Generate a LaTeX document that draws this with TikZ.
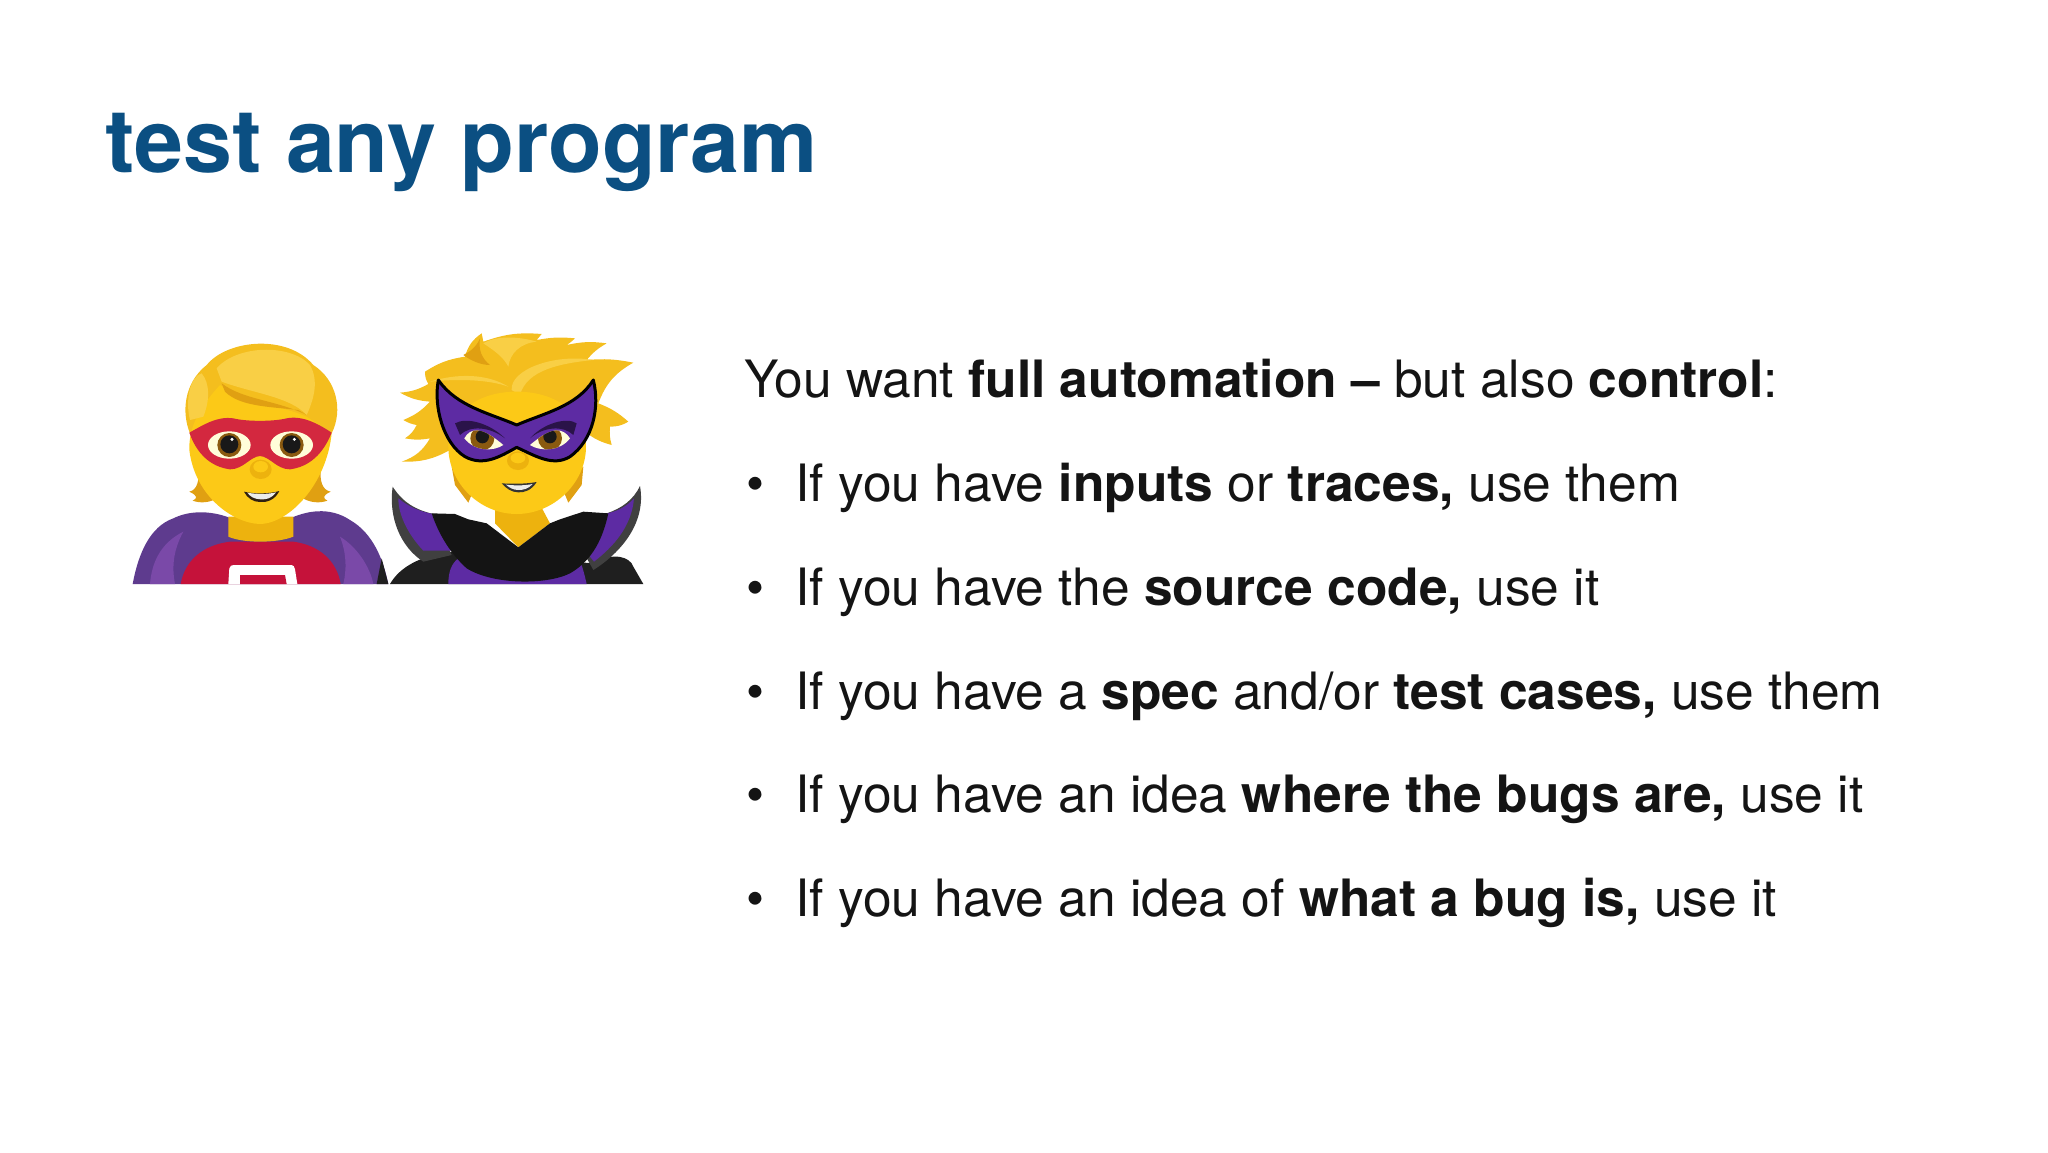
\documentclass[tikz,border=0pt]{standalone}
\usepackage{fontspec}
\setmainfont{TeX Gyre Heros}
\usetikzlibrary{calc}

\definecolor{titleblue}{HTML}{0B4F82}
\definecolor{skin}{HTML}{FCC917}
\definecolor{skindark}{HTML}{EDB20E}
\definecolor{hair}{HTML}{F4BE1E}
\definecolor{hairlight}{HTML}{F9CF45}
\definecolor{hairdark}{HTML}{E0A012}
\definecolor{cape}{HTML}{5E3B8E}
\definecolor{capelight}{HTML}{7A49A8}
\definecolor{maskred}{HTML}{D3283F}
\definecolor{shirt}{HTML}{C5123A}
\definecolor{maskpurple}{HTML}{5D2BA3}
\definecolor{iris}{HTML}{8A5A10}

\tikzset{
	titletext/.style = {anchor = base west, text = titleblue, font = \bfseries\fontsize{88}{100}\selectfont},
	bodytext/.style = {anchor = base west, text = black!92, font = \fontsize{51.5}{60}\selectfont}
}

\begin{document}
\begin{tikzpicture}[x = 1pt, y = -1pt]
	\useasboundingbox (0,0) rectangle (2048,1152);

	\node [titletext] (title) at (102,172) {test any program};

	\node [bodytext] (intro) at (741,397) {You want \textbf{full automation –} but also \textbf{control}:};

	\foreach \y/\itm in {
		501/{If you have \textbf{inputs} or \textbf{traces,} use them},
		605/{If you have the \textbf{source code,} use it},
		709/{If you have a \textbf{spec} and/or \textbf{test cases,} use them},
		812/{If you have an idea \textbf{where the bugs are,} use it},
		916/{If you have an idea of \textbf{what a bug is,} use it}}
	{
		\node [bodytext] (bullet\y) at (743,\y) {•};
		\node [bodytext] (item\y) at (792,\y) {\itm};
	}

	% first hero
	\begin{scope}[shift = {(110,310)}, scale = 1/3]
		\fill [cape] (68,822) .. controls (85,730) and (120,650) .. (190,625) .. controls (240,600) and (310,600) .. (375,630)
			-- (530,630) .. controls (590,600) and (660,590) .. (720,630) .. controls (790,670) and (820,750) .. (835,822) -- cycle;
		\fill [capelight] (120,822) .. controls (125,760) and (150,700) .. (220,665) .. controls (190,720) and (185,770) .. (195,822) -- cycle;
		\fill [capelight] (790,822) .. controls (780,770) and (740,710) .. (690,680) .. controls (710,730) and (710,780) .. (700,822) -- cycle;
		\fill [shirt] (212,822) .. controls (225,750) and (280,705) .. (360,695) -- (550,695) .. controls (625,705) and (680,750) .. (692,822) -- cycle;
		\fill [white] (355,822) -- (358,775) .. controls (360,767) and (365,765) .. (372,765) -- (540,765) .. controls (550,765) and (555,770) .. (555,778) -- (562,822) -- cycle;
		\fill [shirt] (390,822) -- (390,795) -- (525,795) -- (530,822) -- cycle;
		\fill [skindark] (355,620) -- (355,680) .. controls (400,700) and (500,700) .. (550,680) -- (550,620) -- cycle;
		% hair behind the face
		\fill [hairdark] (238,545) .. controls (262,540) and (268,510) .. (265,480) -- (330,560) .. controls (300,580) and (270,580) .. (248,572) .. controls (262,565) and (265,558) .. (238,545) -- cycle;
		\fill [hairdark] (662,545) .. controls (635,540) and (630,510) .. (632,480) -- (570,560) .. controls (600,580) and (630,580) .. (652,572) .. controls (640,565) and (635,558) .. (662,545) -- cycle;
		\fill [hair] (240,370) .. controls (215,310) and (220,220) .. (290,165) .. controls (350,90) and (530,70) .. (610,165) .. controls (680,210) and (700,300) .. (665,370) -- cycle;
		\fill [skin] (450,642) .. controls (370,640) and (255,560) .. (238,420) .. controls (236,350) and (270,290) .. (330,225) .. controls (400,270) and (520,290) .. (590,320) -- (665,370) .. controls (650,520) and (540,640) .. (450,642) -- cycle;
		\fill [hairlight] (320,175) .. controls (380,105) and (540,100) .. (600,165) .. controls (625,210) and (615,260) .. (590,315) .. controls (540,260) and (430,250) .. (335,215) -- cycle;
		\fill [hairdark] (335,220) .. controls (400,270) and (500,270) .. (590,315) -- (565,300) .. controls (480,290) and (390,290) .. (345,245) -- cycle;
		\fill [hairlight] (240,330) .. controls (225,270) and (240,200) .. (275,190) .. controls (300,220) and (300,270) .. (280,320) -- cycle;
		% mask
		\fill [maskred] (238,368) .. controls (280,345) and (320,318) .. (370,325) .. controls (410,335) and (490,335) .. (530,325) .. controls (580,315) and (630,345) .. (665,368)
			.. controls (640,430) and (600,470) .. (540,478) .. controls (500,478) and (480,440) .. (450,438) .. controls (420,440) and (400,478) .. (360,478) .. controls (300,470) and (260,430) .. (238,368) -- cycle;
		\foreach \cx in {358,545}
		{
			\fill [white!85!yellow] (\cx,405) ellipse [x radius = 64, y radius = 41];
			\fill [iris] (\cx,405) circle [radius = 36];
			\fill [black!90] (\cx,403) circle [radius = 27];
			\fill [white] (\cx+8,388) circle [radius = 5];
		}
		\fill [skindark] (452,478) ellipse [x radius = 33, y radius = 29];
		\fill [skin] (452,470) ellipse [x radius = 22, y radius = 17];
		\fill [black!75!brown] (402,545) .. controls (430,552) and (480,552) .. (508,543) .. controls (495,570) and (470,578) .. (450,576) .. controls (430,576) and (412,565) .. (402,545) -- cycle;
		\fill [white!85!gray] (412,548) .. controls (440,553) and (475,553) .. (498,547) .. controls (485,565) and (470,569) .. (452,568) .. controls (435,568) and (420,560) .. (412,548) -- cycle;
	\end{scope}

	% second hero
	\begin{scope}[shift = {(380,310)}, scale = 1/3]
		\fill [black!88] (30,822) .. controls (60,770) and (120,740) .. (205,725) -- (640,760) .. controls (700,725) and (750,740) .. (760,770) -- (790,822) -- cycle;
		\fill [black!88] (-10,822) -- (5,745) -- (25,822) -- cycle;
		\fill [maskpurple] (205,822) .. controls (205,785) and (215,760) .. (235,745) -- (600,750) .. controls (610,780) and (615,800) .. (620,822) -- cycle;
		% collar
		\fill [black!75] (38,530) .. controls (70,580) and (110,600) .. (160,612) -- (215,735) -- (130,755) .. controls (60,710) and (25,620) .. (38,530) -- cycle;
		\fill [maskpurple] (55,565) .. controls (85,590) and (120,605) .. (160,612) -- (215,722) -- (130,722) .. controls (90,680) and (55,620) .. (55,565) -- cycle;
		\fill [black!75] (780,528) .. controls (760,570) and (725,595) .. (680,610) -- (615,735) -- (640,780) .. controls (720,730) and (800,640) .. (780,528) -- cycle;
		\fill [maskpurple] (762,565) .. controls (740,590) and (710,605) .. (680,610) -- (622,730) -- (642,755) .. controls (700,710) and (755,650) .. (762,565) -- cycle;
		% neck and scarf
		\fill [skindark] (345,580) -- (345,640) -- (415,712) -- (510,640) -- (478,580) -- cycle;
		\fill [black!92] (155,610) -- (225,612) -- (265,628) -- (320,640) -- (415,712) -- (510,640) -- (540,628) -- (610,605) -- (685,610)
			.. controls (670,680) and (640,750) .. (570,790) .. controls (500,825) and (340,825) .. (260,775) .. controls (210,730) and (175,670) .. (155,610) -- cycle;
		% hair
		\fill [hairdark] (215,470) -- (225,525) -- (265,578) -- (285,530) -- cycle;
		\fill [hairdark] (610,470) -- (605,525) -- (565,578) -- (545,530) -- cycle;
		\fill [hair] (60,248) to [bend right = 12] (145,222) to [bend left = 15] (135,185) to [bend left = 12] (255,140)
			to [bend left = 20] (305,70) to [bend right = 5] (310,95) to [bend left = 12] (485,72) to [bend left = 8] (470,90)
			to [bend left = 8] (585,85) to [bend left = 5] (560,105) to [bend left = 10] (680,100) to [bend right = 10] (620,150)
			to [bend left = 8] (760,158) to [bend right = 20] (655,280) to [bend left = 10] (745,335) to [bend left = 15] (690,350)
			to [bend right = 10] (695,405) to [bend left = 15] (600,350) -- (210,420) to [bend left = 15] (65,455)
			to [bend right = 20] (150,385) to [bend left = 10] (75,385) to [bend right = 15] (110,345) to [bend left = 10] (70,330)
			to [bend right = 12] (150,275) to [bend left = 12] (60,248) -- cycle;
		\fill [hairlight] (150,215) .. controls (230,190) and (320,190) .. (385,230) .. controls (330,210) and (240,205) .. (150,215) -- cycle;
		\fill [hairlight] (395,240) .. controls (390,180) and (520,130) .. (640,150) .. controls (540,160) and (440,180) .. (420,255) -- cycle;
		\fill [hairlight] (310,100) .. controls (350,75) and (420,80) .. (470,95) .. controls (420,100) and (390,130) .. (385,170) .. controls (370,140) and (340,120) .. (310,100) -- cycle;
		\fill [hairdark] (250,135) .. controls (270,125) and (290,110) .. (300,85) .. controls (295,120) and (305,145) .. (330,165) .. controls (300,165) and (270,150) .. (250,135) -- cycle;
		% face
		\fill [skin] (410,612) .. controls (300,612) and (205,520) .. (205,410) .. controls (205,320) and (280,245) .. (410,245) .. controls (540,245) and (618,320) .. (618,410) .. controls (618,520) and (520,612) .. (410,612) -- cycle;
		% mask
		\fill [maskpurple, draw = black, line width = 3pt, line join = round]
			(175,210) .. controls (230,290) and (330,310) .. (410,345) .. controls (490,310) and (590,290) .. (640,210)
			.. controls (660,290) and (640,390) .. (570,440) .. controls (520,470) and (470,440) .. (410,412)
			.. controls (360,440) and (310,470) .. (255,440) .. controls (190,400) and (160,290) .. (175,210) -- cycle;
		\fill [black!55!maskpurple] (225,340) .. controls (260,320) and (330,340) .. (375,385) .. controls (330,350) and (270,345) .. (240,375) -- cycle;
		\fill [black!55!maskpurple] (590,340) .. controls (560,320) and (490,340) .. (450,385) .. controls (490,350) and (550,345) .. (580,375) -- cycle;
		% eyes
		\begin{scope}
			\clip (253,385) .. controls (270,355) and (300,345) .. (370,405) .. controls (340,425) and (285,425) .. (253,385) -- cycle;
			\fill [white!85!yellow] (240,340) rectangle (380,430);
			\fill [iris] (307,385) circle [radius = 36];
			\fill [black!90] (307,380) circle [radius = 20];
		\end{scope}
		\begin{scope}
			\clip (570,385) .. controls (550,355) and (520,345) .. (450,405) .. controls (480,425) and (540,425) .. (570,385) -- cycle;
			\fill [white!85!yellow] (440,340) rectangle (580,430);
			\fill [iris] (510,385) circle [radius = 36];
			\fill [black!90] (510,380) circle [radius = 20];
		\end{scope}
		\fill [skindark] (414,452) ellipse [x radius = 33, y radius = 28];
		\fill [skin] (414,444) ellipse [x radius = 22, y radius = 16];
		\fill [black!80] (365,520) .. controls (395,522) and (440,522) .. (470,516) .. controls (455,540) and (435,548) .. (415,547) .. controls (395,547) and (378,535) .. (365,520) -- cycle;
		\fill [white!85!gray] (378,524) .. controls (405,527) and (435,527) .. (458,522) .. controls (445,537) and (430,540) .. (415,540) .. controls (400,540) and (388,533) .. (378,524) -- cycle;
	\end{scope}
\end{tikzpicture}
\end{document}
